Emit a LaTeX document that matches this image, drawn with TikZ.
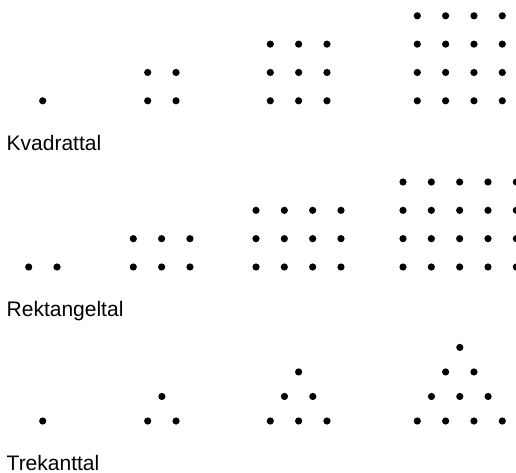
\documentclass[tikz,border=0pt]{standalone}
\usepackage{fontspec}
\setmainfont{Liberation Sans}
\begin{document}
\begin{tikzpicture}[x=1pt,y=-1pt,
  dot/.style={circle,fill=black,inner sep=0pt,minimum size=7.2pt},
  lbl/.style={anchor=base west,inner sep=0pt,font=\fontsize{21}{25}\selectfont}]
\useasboundingbox (0,0) rectangle (516,473);
\def\s{28.33}
\def\h{24.53}
% Kvadrattal
\foreach \n/\xo in {1/42.7,2/147.7,3/270.3,4/417.3}{
  \foreach \i in {1,...,\n}{
    \foreach \j in {1,...,\n}{
      \node[dot] (q\n-\i-\j) at ({\xo+(\j-1)*\s},{100.8-(\i-1)*\s}) {};
    }
  }
}
\node[lbl] (kv) at (6.5,150) {Kvadrattal};
% Rektangeltal
\foreach \n/\xo in {1/28.7,2/133.3,3/256,4/403}{
  \pgfmathtruncatemacro{\m}{\n+1}
  \foreach \i in {1,...,\n}{
    \foreach \j in {1,...,\m}{
      \node[dot] (r\n-\i-\j) at ({\xo+(\j-1)*\s},{267-(\i-1)*\s}) {};
    }
  }
}
\node[lbl] (re) at (6.5,316) {Rektangeltal};
% Trekanttal
\foreach \n/\xo in {1/42.7,2/147.7,3/270.3,4/417.3}{
  \foreach \i in {1,...,\n}{
    \pgfmathtruncatemacro{\k}{\n-\i+1}
    \foreach \j in {1,...,\k}{
      \node[dot] (t\n-\i-\j) at ({\xo+(\i-1)*\s/2+(\j-1)*\s},{421-(\i-1)*\h}) {};
    }
  }
}
\node[lbl] (tr) at (6.5,470) {Trekanttal};
\end{tikzpicture}
\end{document}
